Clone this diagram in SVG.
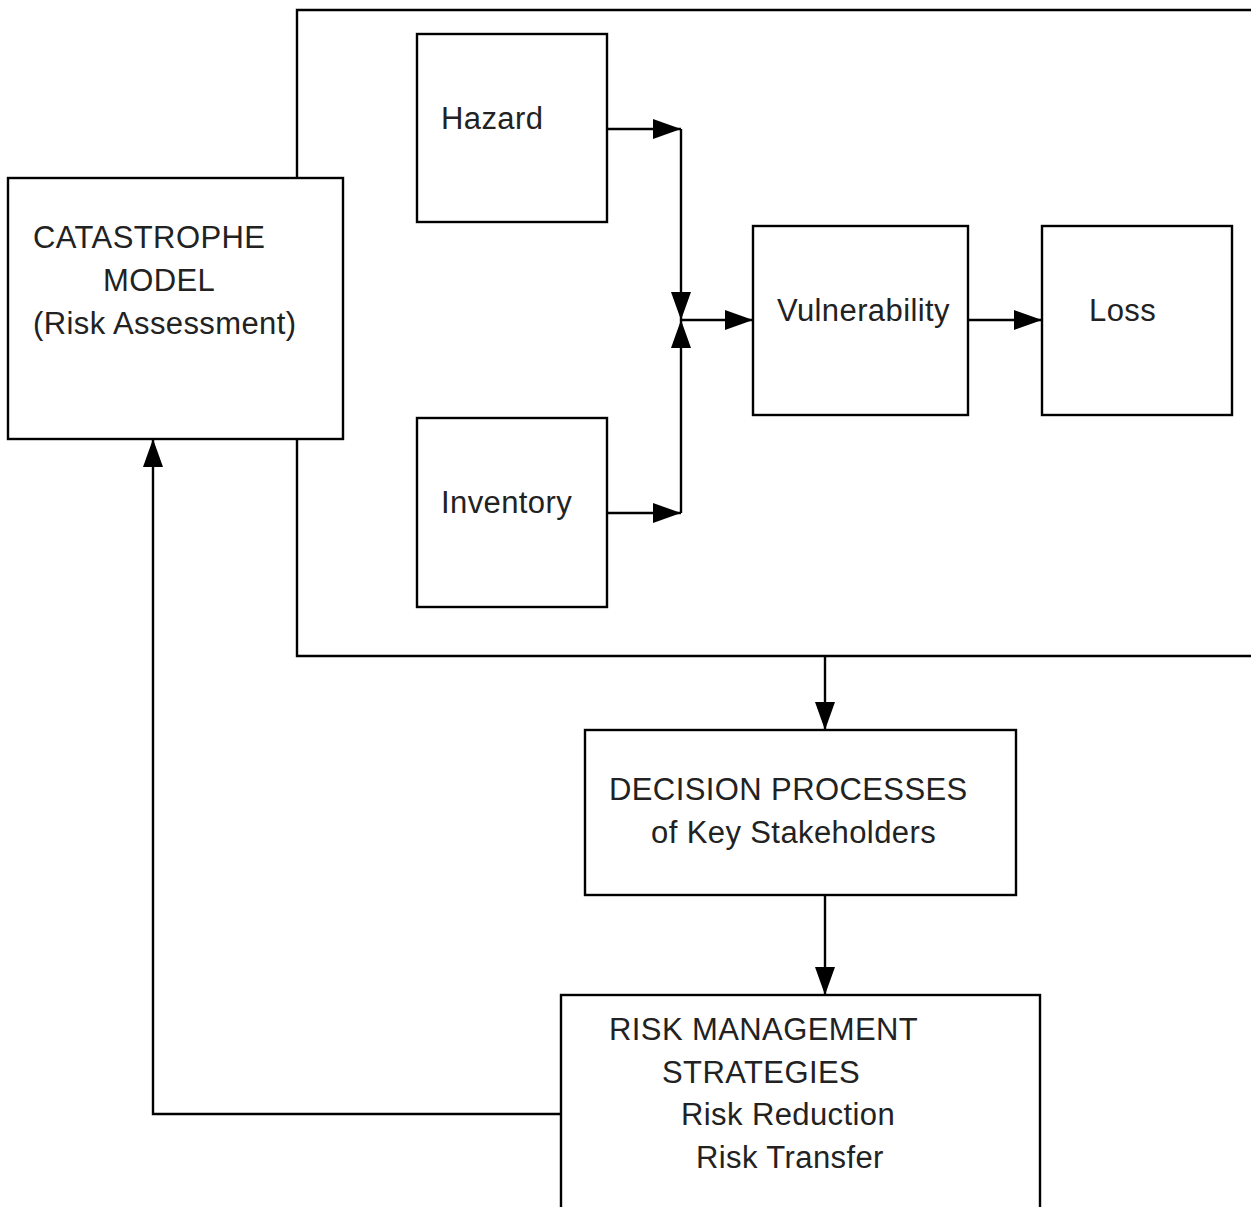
<svg xmlns="http://www.w3.org/2000/svg" width="1251" height="1207" viewBox="0 0 1251 1207">
<style>
.box{fill:#fff;stroke:#000;stroke-width:2.4}
.ln{fill:none;stroke:#000;stroke-width:2.4}
text{font-family:"Liberation Sans",Arial,sans-serif;font-size:31px;letter-spacing:0.4px;fill:#222}
</style>
<defs>
<marker id="ah" markerUnits="userSpaceOnUse" markerWidth="28" markerHeight="20" refX="28" refY="10" orient="auto">
<path d="M0,0 L28,10 L0,20 z" fill="#000"/>
</marker>
</defs>
<rect width="1251" height="1207" fill="#fff"/>
<g id="frame">
<path class="ln" d="M1260,10 H297 V656 H1260"/>
</g>
<g id="catastrophe">
<rect class="box" x="8" y="178" width="335" height="261"/>
<text x="33" y="248">CATASTROPHE</text>
<text x="103" y="291">MODEL</text>
<text x="33" y="334">(Risk Assessment)</text>
</g>
<g id="hazard">
<rect class="box" x="417" y="34" width="190" height="188"/>
<text x="441" y="129">Hazard</text>
</g>
<g id="inventory">
<rect class="box" x="417" y="418" width="190" height="189"/>
<text x="441" y="513">Inventory</text>
</g>
<g id="vulnerability">
<rect class="box" x="753" y="226" width="215" height="189"/>
<text x="777" y="321">Vulnerability</text>
</g>
<g id="loss">
<rect class="box" x="1042" y="226" width="190" height="189"/>
<text x="1089" y="321">Loss</text>
</g>
<g id="decision">
<rect class="box" x="585" y="730" width="431" height="165"/>
<text x="609" y="800">DECISION PROCESSES</text>
<text x="651" y="843">of Key Stakeholders</text>
</g>
<g id="riskmgmt">
<rect class="box" x="561" y="995" width="479" height="220"/>
<text x="609" y="1040">RISK MANAGEMENT</text>
<text x="662" y="1083">STRATEGIES</text>
<text x="681" y="1125">Risk Reduction</text>
<text x="696" y="1168">Risk Transfer</text>
</g>
<g id="connectors">
<path class="ln" d="M607,129 H681" marker-end="url(#ah)"/>
<path class="ln" d="M681,129 V320" marker-end="url(#ah)"/>
<path class="ln" d="M607,513 H681" marker-end="url(#ah)"/>
<path class="ln" d="M681,513 V320" marker-end="url(#ah)"/>
<path class="ln" d="M681,320 H753" marker-end="url(#ah)"/>
<path class="ln" d="M968,320 H1042" marker-end="url(#ah)"/>
<path class="ln" d="M825,656 V730" marker-end="url(#ah)"/>
<path class="ln" d="M825,895 V995" marker-end="url(#ah)"/>
<path class="ln" d="M561,1114 H153 V439" marker-end="url(#ah)"/>
</g>
</svg>
